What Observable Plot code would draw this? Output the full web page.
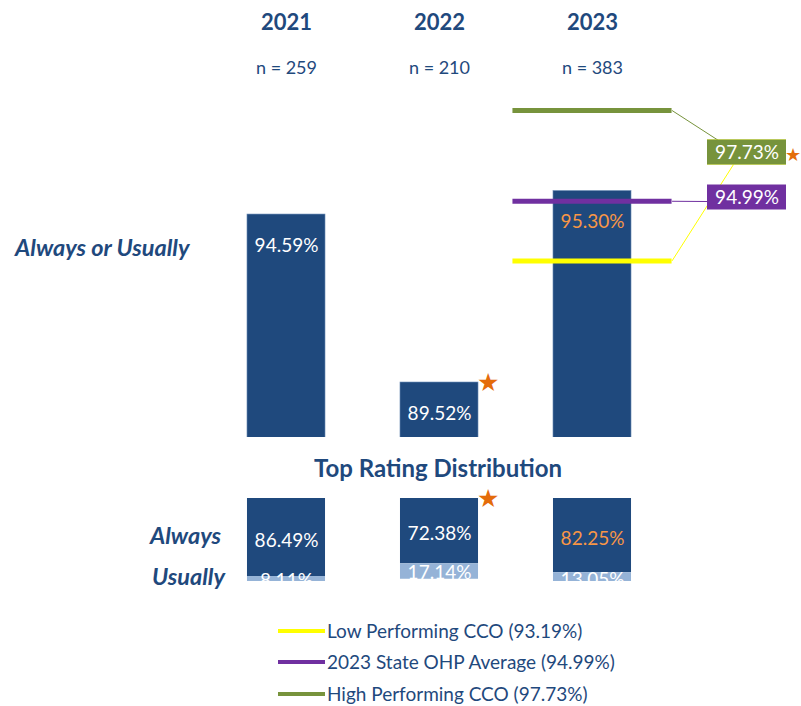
<!DOCTYPE html>
<html><head><meta charset="utf-8">
<script src="https://cdn.jsdelivr.net/npm/d3@7"></script>
<script src="https://cdn.jsdelivr.net/npm/@observablehq/plot@0.6"></script>
<style>
body{margin:0;background:#fff;font-family:Lato,"Open Sans",sans-serif;}
#wrap{position:relative;width:801px;height:706px;overflow:hidden;}
.abs{position:absolute;white-space:nowrap;color:#1F497D;line-height:1;}
#top,#bottom{position:absolute;left:0;}
</style></head><body><div id="wrap"><div id="top"></div><div id="bottom"></div></div>
<script>
// ---- data ----
const years = [2021, 2022, 2023];
const sampleSizes = [259, 210, 383];
const alwaysOrUsually = [94.59, 89.52, 95.30];
const always = [86.49, 72.38, 82.25];
const usually = [8.11, 17.14, 13.05];
const sigTop = [false, true, false];
const sigBottom = [false, true, false];
const highlightYear = 2023;
const refNames = ["Low Performing CCO", "2023 State OHP Average", "High Performing CCO"];
const refValues = [93.19, 94.99, 97.73];
const refSig = [false, false, true];

// ---- styles ----
const DARK = "#1F497D", LIGHT = "#95B3D7", ORANGE = "#F79646", STAR = "#E46C0A";
const refColors = ["#FFFF00", "#7030A0", "#77933C"];
const FONT = "Lato, 'Open Sans', sans-serif";
const BAR_HALF = 0.255, REF_HALF = 0.52;
const X_DOMAIN = [2021, 2023], X_RANGE = [286, 592];
const Y_DOMAIN = [87.86, 97.73], Y_RANGE = [437, 110];
const VAL_FS = 19;

const rows = years.map((y, i) => ({year: y, n: sampleSizes[i], total: alwaysOrUsually[i], always: always[i], usually: usually[i], sigTop: sigTop[i], sigBottom: sigBottom[i]}));
const refs = refNames.map((name, i) => ({name, value: refValues[i], color: refColors[i], sig: refSig[i]}));
const fmt = v => v.toFixed(2) + "%";

const xS = Plot.scale({x: {domain: X_DOMAIN, range: X_RANGE}});
const yS = Plot.scale({y: {domain: Y_DOMAIN, range: Y_RANGE}});
// label box layout (pixels): box column and attachment points
const BOX_X1 = 707, BOX_X2 = 786, BOX_H = 25;
const labelLayout = [
  {boxY: 152, ax: 733, ay: 164},
  {boxY: 197, ax: 707, ay: 201},
  {boxY: 152, ax: 718, ay: 140}
];
const refsL = refs.map((r, i) => ({...r,
  bx1: xS.invert(BOX_X1), bx2: xS.invert(BOX_X2),
  by1: yS.invert(labelLayout[i].boxY - BOX_H / 2), by2: yS.invert(labelLayout[i].boxY + BOX_H / 2),
  bx: xS.invert((BOX_X1 + BOX_X2) / 2), by: yS.invert(labelLayout[i].boxY),
  ax: xS.invert(labelLayout[i].ax), ay: yS.invert(labelLayout[i].ay)}));

const topPlot = Plot.plot({
  width: 801, height: 445,
  marginTop: 0, marginBottom: 8, marginLeft: 0, marginRight: 0,
  x: {domain: X_DOMAIN, range: X_RANGE, axis: null},
  y: {domain: Y_DOMAIN, range: Y_RANGE, axis: null},
  color: {type: "identity"},
  style: {fontFamily: FONT, background: "transparent", overflow: "visible"},
  marks: [
    Plot.rect(rows, {x1: d => d.year - BAR_HALF, x2: d => d.year + BAR_HALF, y1: d => 0, y2: "total", fill: DARK, stroke: "#6F8FB8", strokeWidth: 0.6, clip: true}),
    Plot.link(refsL, {x1: d => highlightYear + REF_HALF, y1: "value", x2: "ax", y2: "ay", stroke: "color", strokeWidth: 1, strokeDasharray: d => d.name.startsWith("2023") ? "4,2" : null}),
    Plot.ruleY(refs, {y: "value", x1: d => highlightYear - REF_HALF, x2: d => highlightYear + REF_HALF, stroke: "color", strokeWidth: 5}),
    Plot.text(rows, {x: "year", y: "total", dy: 31, text: d => fmt(d.total), fill: d => d.year === highlightYear ? ORANGE : "white", fontSize: VAL_FS}),
    Plot.text(rows.filter(d => d.sigTop), {x: d => d.year + BAR_HALF, y: "total", dx: 9, text: d => "★", fill: STAR, fontSize: 25}),
    Plot.text(rows, {x: "year", frameAnchor: "top", lineAnchor: "middle", dy: 22, text: d => String(d.year), fill: DARK, fontSize: 22, fontWeight: "bold"}),
    Plot.text(rows, {x: "year", frameAnchor: "top", lineAnchor: "middle", dy: 68, text: d => "n = " + d.n, fill: DARK, fontSize: 18}),
    Plot.rect(refsL, {x1: "bx1", x2: "bx2", y1: "by1", y2: "by2", fill: "color"}),
    Plot.text(refsL.filter(d => d.name !== "Low Performing CCO"), {x: "bx", y: "by", text: d => fmt(d.value), fill: "white", fontSize: VAL_FS}),
    Plot.text(refsL.filter(d => d.sig), {x: "bx2", y: "by", dx: 6, dy: 3, text: d => "★", fill: STAR, fontSize: 18})
  ]
});
document.getElementById("top").appendChild(topPlot);

const bottomPlot = Plot.plot({
  width: 801, height: 110,
  marginTop: 18, marginBottom: 9, marginLeft: 0, marginRight: 0,
  x: {domain: X_DOMAIN, range: X_RANGE, axis: null},
  y: {domain: [0, 92], range: [18, 101], axis: null},
  color: {type: "identity"},
  style: {fontFamily: FONT, background: "transparent"},
  marks: [
    Plot.rect(rows, {x1: d => d.year - BAR_HALF, x2: d => d.year + BAR_HALF, y1: d => 0, y2: "always", fill: DARK, clip: true}),
    Plot.rect(rows, {x1: d => d.year - BAR_HALF, x2: d => d.year + BAR_HALF, y1: "always", y2: d => d.always + d.usually, fill: LIGHT, clip: true}),
    Plot.text(rows, {x: "year", y: d => d.always / 2, dy: 3, text: d => fmt(d.always), fill: d => d.year === highlightYear ? ORANGE : "white", fontSize: VAL_FS}),
    Plot.text(rows, {x: "year", y: d => d.always + d.usually / 2, dy: 1, text: d => fmt(d.usually), fill: "white", fontSize: VAL_FS, clip: true}),
    Plot.text(rows.filter(d => d.sigBottom), {x: d => d.year + BAR_HALF, y: d => 0, dx: 9, text: d => "★", fill: STAR, fontSize: 25})
  ]
});
const bottomDiv = document.getElementById("bottom");
bottomDiv.style.top = "480px";
bottomDiv.appendChild(bottomPlot);

const wrap = document.getElementById("wrap");
function addText(txt, css) {
  const d = document.createElement("div");
  d.className = "abs"; d.textContent = txt;
  Object.assign(d.style, css);
  wrap.appendChild(d);
  return d;
}
addText("Always or Usually", {left: "15px", top: "236px", fontSize: "23.5px", fontWeight: "bold", fontStyle: "italic"});
addText("Top Rating Distribution", {left: "0px", width: "876px", textAlign: "center", top: "456px", fontSize: "24px", fontWeight: "bold"});
addText("Always", {right: "580px", top: "524px", fontSize: "23.5px", fontWeight: "bold", fontStyle: "italic"});
addText("Usually", {right: "576px", top: "565px", fontSize: "23.5px", fontWeight: "bold", fontStyle: "italic"});
// legend
const legendTop = [631, 662, 694];
refs.forEach((r, i) => {
  const line = document.createElement("div");
  Object.assign(line.style, {position: "absolute", left: "278px", width: "47px", height: "4px", top: (legendTop[i] - 2) + "px", background: r.color});
  wrap.appendChild(line);
  addText(`${r.name} (${fmt(r.value)})`, {left: "327px", top: (legendTop[i] - 10) + "px", fontSize: "19px"});
});
</script></body></html>
